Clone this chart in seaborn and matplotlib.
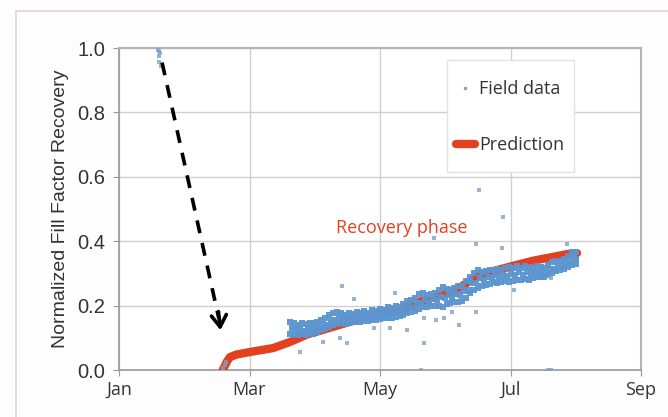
import numpy as np
import pandas as pd
import matplotlib
matplotlib.use("Agg")
import matplotlib.pyplot as plt
from matplotlib.lines import Line2D
from matplotlib.patches import Rectangle
import seaborn as sns

# x axis in months since Jan 1 (0=Jan, 2=Mar, ...)
month_ticks = [0, 2, 4, 6, 8]
month_labels = ['Jan', 'Mar', 'May', 'Jul', 'Sep']

# prediction curve
pred_month = [1.59, 1.62, 1.66, 1.70, 1.80, 2.01, 2.36, 2.62, 2.88, 3.28, 3.80,
              4.32, 4.57, 4.98, 5.24, 5.44, 5.70, 6.01, 6.36, 6.67, 6.87, 7.02]
pred_ffr = [0.0, 0.012, 0.028, 0.040, 0.048, 0.056, 0.068, 0.087, 0.110, 0.134, 0.165,
            0.190, 0.210, 0.235, 0.258, 0.285, 0.305, 0.322, 0.340, 0.352, 0.360, 0.363]

# field data, main band (upper and lower edge, middle of the cloud)
band_month = [2.62, 2.68, 2.74, 2.80, 2.86, 2.92, 2.98, 3.04, 3.10, 3.16, 3.22, 3.28,
              3.34, 3.40, 3.46, 3.52, 3.58, 3.64, 3.70, 3.76, 3.82, 3.88, 3.94, 4.00,
              4.06, 4.12, 4.18, 4.24, 4.30, 4.36, 4.42, 4.48, 4.54, 4.60, 4.66, 4.72,
              4.78, 4.84, 4.90, 4.96, 5.02, 5.08, 5.14, 5.20, 5.26, 5.32, 5.38, 5.44,
              5.50, 5.56, 5.62, 5.68, 5.74, 5.80, 5.86, 5.92, 5.98, 6.04, 6.10, 6.16,
              6.22, 6.28, 6.34, 6.40, 6.46, 6.52, 6.58, 6.64, 6.70, 6.76, 6.82, 6.88,
              6.94, 7.00]
mid_month = [2.65, 2.71, 2.77, 2.83, 2.89, 2.95, 3.01, 3.07, 3.13, 3.19, 3.25, 3.31,
             3.37, 3.43, 3.49, 3.55, 3.61, 3.67, 3.73, 3.79, 3.85, 3.91, 3.97, 4.03,
             4.09, 4.15, 4.21, 4.27, 4.33, 4.39, 4.45, 4.51, 4.57, 4.63, 4.69, 4.75,
             4.81, 4.87, 4.93, 4.99, 5.05, 5.11, 5.17, 5.23, 5.29, 5.35, 5.41, 5.47,
             5.53, 5.59, 5.65, 5.71, 5.77, 5.83, 5.89, 5.95, 6.01, 6.07, 6.13, 6.19,
             6.25, 6.31, 6.37, 6.43, 6.49, 6.55, 6.61, 6.67, 6.73, 6.79, 6.85, 6.91,
             6.97, 7.01]
band_hi = [0.148, 0.145, 0.140, 0.146, 0.142, 0.147, 0.145, 0.150, 0.155, 0.160, 0.170, 0.178,
           0.180, 0.176, 0.172, 0.178, 0.174, 0.180, 0.177, 0.182, 0.178, 0.185, 0.182, 0.188,
           0.186, 0.195, 0.192, 0.198, 0.196, 0.205, 0.215, 0.218, 0.225, 0.235, 0.238, 0.232,
           0.236, 0.240, 0.250, 0.258, 0.252, 0.248, 0.255, 0.260, 0.262, 0.275, 0.290, 0.300,
           0.310, 0.305, 0.308, 0.312, 0.310, 0.315, 0.312, 0.318, 0.320, 0.316, 0.322, 0.318,
           0.322, 0.320, 0.318, 0.322, 0.320, 0.318, 0.325, 0.335, 0.338, 0.340, 0.345, 0.355,
           0.368, 0.365]
band_mid = [0.130, 0.125, 0.128, 0.122, 0.130, 0.127, 0.135, 0.131, 0.142, 0.140, 0.152, 0.155,
            0.163, 0.157, 0.161, 0.158, 0.165, 0.160, 0.166, 0.162, 0.169, 0.166, 0.171, 0.170,
            0.176, 0.174, 0.180, 0.178, 0.185, 0.184, 0.199, 0.194, 0.207, 0.209, 0.218, 0.210,
            0.220, 0.216, 0.228, 0.224, 0.233, 0.226, 0.236, 0.232, 0.245, 0.248, 0.270, 0.270,
            0.286, 0.279, 0.290, 0.286, 0.294, 0.290, 0.296, 0.292, 0.299, 0.294, 0.303, 0.296,
            0.305, 0.298, 0.305, 0.302, 0.308, 0.301, 0.313, 0.315, 0.325, 0.322, 0.333, 0.335,
            0.350, 0.345]
band_lo = [0.112, 0.110, 0.108, 0.113, 0.110, 0.115, 0.112, 0.118, 0.125, 0.128, 0.133, 0.140,
           0.142, 0.145, 0.143, 0.147, 0.148, 0.150, 0.150, 0.152, 0.153, 0.156, 0.155, 0.158,
           0.160, 0.162, 0.163, 0.166, 0.168, 0.172, 0.178, 0.180, 0.183, 0.190, 0.195, 0.196,
           0.198, 0.200, 0.200, 0.196, 0.205, 0.208, 0.210, 0.212, 0.215, 0.225, 0.238, 0.250,
           0.255, 0.262, 0.265, 0.268, 0.272, 0.270, 0.272, 0.275, 0.272, 0.276, 0.278, 0.280,
           0.282, 0.280, 0.285, 0.288, 0.290, 0.290, 0.294, 0.300, 0.306, 0.310, 0.315, 0.320,
           0.325, 0.330]

# field data, scattered points (before the event and outliers)
extra_month = [0.60, 0.61, 0.62, 0.63, 0.64, 0.61, 1.59, 1.62, 1.64,
               5.52, 5.88, 4.83, 5.47, 5.87, 6.87, 3.42, 3.60, 4.23, 4.67, 4.86, 4.98,
               5.10, 5.21, 5.47, 4.41, 3.91, 4.15, 3.49, 4.67, 2.77, 3.13, 3.39, 6.05,
               6.62, 6.62, 6.57, 4.63]
extra_ffr = [0.995, 0.975, 0.955, 0.985, 0.945, 0.99, 0.005, 0.015, 0.025,
             0.560, 0.475, 0.410, 0.390, 0.380, 0.390, 0.260, 0.220, 0.240, 0.160, 0.155, 0.160,
             0.180, 0.140, 0.180, 0.124, 0.130, 0.130, 0.084, 0.084, 0.056, 0.087, 0.100, 0.250,
             0.285, 0.0, 0.0, 0.0]

band = pd.DataFrame({
    'month': band_month + mid_month + band_month,
    'ffr': band_hi + band_mid + band_lo,
})
extra = pd.DataFrame({'month': extra_month, 'ffr': extra_ffr})
pred = pd.DataFrame({'month': pred_month, 'ffr': pred_ffr})

sns.set_theme(style='whitegrid')
plt.rcParams['font.family'] = ['Liberation Sans', 'DejaVu Sans']
humanist = ['Open Sans', 'DejaVu Sans']

blue = '#5b95d0'
red = '#e2401f'

fig = plt.figure(figsize=(6.68, 4.17), dpi=100)
fig.patch.set_facecolor('#fdfdfd')
fig.patches.append(Rectangle((16 / 668, -0.05), 2, 1 - 11 / 417 + 0.05,
                             transform=fig.transFigure, fill=False,
                             edgecolor='#dcd7cc', lw=1.2))
ax = fig.add_axes([119 / 668, 1 - 370 / 417, 522 / 668, 322 / 417])
ax.set_facecolor('white')

sns.lineplot(data=pred, x='month', y='ffr', sort=False, color=red, lw=6,
             solid_capstyle='round', ax=ax, zorder=3)
sns.scatterplot(data=band, x='month', y='ffr', color=blue, marker='s', s=22,
                linewidth=0, alpha=0.95, ax=ax, zorder=4)
sns.scatterplot(data=extra, x='month', y='ffr', color='#7fa3c8', marker='s', s=5,
                linewidth=0, alpha=0.8, ax=ax, zorder=4)

# dashed arrow pointing to the start of the recovery
ax.plot([0.66, 1.53], [0.955, 0.16], color='black', lw=2.6, dashes=(3.6, 2.8), zorder=5)
ax.annotate('', xy=(1.56, 0.115), xytext=(1.52, 0.19),
            arrowprops=dict(arrowstyle='->,head_length=0.7,head_width=0.45',
                            lw=2.6, color='black'), zorder=5)

ax.text(4.34, 0.44, 'Recovery phase', color=red, fontsize=13,
        family=humanist, ha='center', va='center')

ax.set_xlim(0, 8)
ax.set_ylim(0, 1)
ax.set_xticks(month_ticks)
ax.set_xticklabels(month_labels, family=humanist, fontsize=13, color='#333333')
ax.set_yticks([0, 0.2, 0.4, 0.6, 0.8, 1.0])
ax.set_yticklabels(['0.0', '0.2', '0.4', '0.6', '0.8', '1.0'], fontsize=14.5, color='#333333')
ax.tick_params(axis='both', length=4, width=0.8, color='#999999', pad=4, direction='out',
               bottom=True, left=True)
ax.tick_params(axis='y', pad=6)
ax.set_xlabel('')
ax.set_ylabel('Normalized Fill Factor Recovery', fontsize=14, color='#333333', labelpad=6)
ax.grid(True, color='#cfcfcf', lw=1.0)
for side in ['left', 'bottom']:
    ax.spines[side].set_color('#999999')
    ax.spines[side].set_linewidth(1.2)
for side in ['top', 'right']:
    ax.spines[side].set_color('#b5b5b5')
    ax.spines[side].set_linewidth(1.5)

# legend box drawn separately so the padding can match
ax.add_patch(Rectangle((0.628, 0.615), 0.244, 0.348, transform=ax.transAxes,
                       facecolor='white', edgecolor='#e2e2e2', lw=1.0, zorder=6))
handles = [Line2D([], [], ls='none', marker='s', ms=2, color='#a0a0a0'),
           Line2D([], [], color=red, lw=6, solid_capstyle='round')]
leg = ax.legend(handles, ['Field data', 'Prediction'], loc='upper left',
                bbox_to_anchor=(0.645, 0.90), labelspacing=2.1, handlelength=1.05,
                handletextpad=0.25, borderpad=0.0, borderaxespad=0.0, frameon=False,
                prop={'family': humanist, 'size': 13})
leg.set_zorder(7)
for t in leg.get_texts():
    t.set_color('#333333')

fig.savefig('out.png', dpi=100, facecolor=fig.get_facecolor())
